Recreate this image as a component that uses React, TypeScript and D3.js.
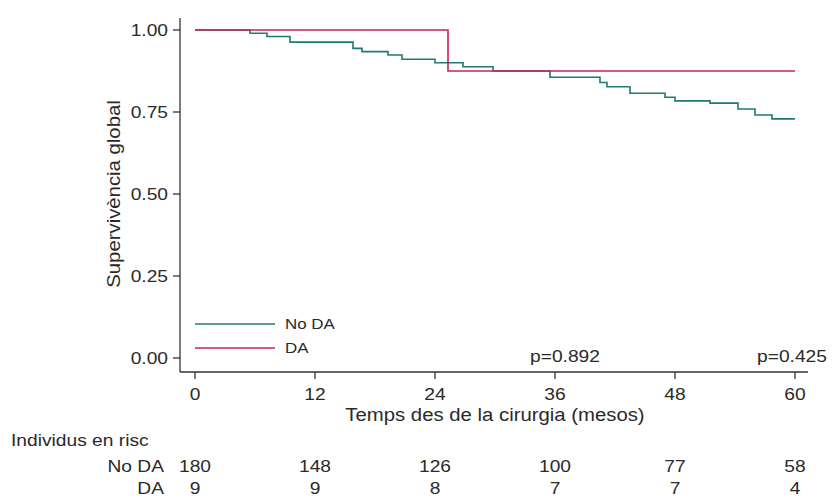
import React from "react";
import * as d3 from "d3";

const noDaSteps: [number, number][] = [
  [0, 1.0], [5.5, 0.99], [7.2, 0.98], [9.5, 0.963], [15.8, 0.944], [16.7, 0.934],
  [19.3, 0.924], [20.7, 0.911], [24, 0.9], [26.8, 0.888], [29.8, 0.875], [35.5, 0.856],
  [40.5, 0.84], [41.2, 0.827], [43.5, 0.807], [47, 0.795], [48, 0.784], [51.5, 0.777],
  [54.3, 0.759], [56, 0.741], [57.7, 0.729], [60, 0.729],
];
const daSteps: [number, number][] = [[0, 1.0], [25.3, 0.875], [60, 0.875]];

const xTicks = [0, 12, 24, 36, 48, 60];
const yTicks = [0, 0.25, 0.5, 0.75, 1.0];
const riskNoDa = [180, 148, 126, 100, 77, 58];
const riskDa = [9, 9, 8, 7, 7, 4];
const pValues = [{ t: 37, label: "p=0.892" }, { t: 59.7, label: "p=0.425" }];

const series = [
  { name: "No DA", color: "#1f7a72", steps: noDaSteps, risk: riskNoDa },
  { name: "DA", color: "#c8205c", steps: daSteps, risk: riskDa },
];

const TXT = "#2a2a2a";
const SX = 1.13; // glyphs in the source are a bit wide

// text with a slight horizontal stretch
function T({ x, y, size, anchor = "start", children, rotate = 0 }: any) {
  return (
    <text
      transform={`translate(${x},${y}) rotate(${rotate}) scale(${SX},1)`}
      textAnchor={anchor}
      fontSize={size}
      fill={TXT}
    >
      {children}
    </text>
  );
}

export default function App() {
  const W = 832, H = 498;
  const x = d3.scaleLinear().domain([0, 60]).range([195, 795]);
  const y = d3.scaleLinear().domain([0, 1]).range([358, 30]);
  const line = d3.line<[number, number]>()
    .x(d => x(d[0]))
    .y(d => y(d[1]))
    .curve(d3.curveStepAfter);
  const font = "'Liberation Sans', Arial, sans-serif";
  const axisY = 372;
  const axisX = 180;

  return (
    <svg width={W} height={H} style={{ position: "absolute", left: 0, top: 0, background: "#fff" }} fontFamily={font}>
      {/* curves */}
      {series.map(s => (
        <path key={s.name} d={line(s.steps) || ""} fill="none" stroke={s.color} strokeWidth={1.6} />
      ))}

      {/* y axis */}
      <line x1={axisX} x2={axisX} y1={18} y2={axisY} stroke="#333" strokeWidth={1.3} />
      {yTicks.map(v => (
        <g key={v}>
          <line x1={axisX - 7} x2={axisX} y1={y(v)} y2={y(v)} stroke="#333" strokeWidth={1.3} />
          <T x={axisX - 12} y={y(v) + 6} size={17} anchor="end">{v.toFixed(2)}</T>
        </g>
      ))}
      <T x={120} y={y(0.5)} size={18} anchor="middle" rotate={-90}>Supervivència global</T>

      {/* x axis */}
      <line x1={axisX} x2={808} y1={axisY} y2={axisY} stroke="#333" strokeWidth={1.3} />
      {xTicks.map(v => (
        <g key={v}>
          <line x1={x(v)} x2={x(v)} y1={axisY} y2={axisY + 7} stroke="#333" strokeWidth={1.3} />
          <T x={x(v)} y={400} size={17} anchor="middle">{v}</T>
        </g>
      ))}
      <T x={x(30)} y={421} size={18} anchor="middle">Temps des de la cirurgia (mesos)</T>

      {/* p-values */}
      {pValues.map(p => (
        <T key={p.label} x={x(p.t)} y={362} size={17} anchor="middle">{p.label}</T>
      ))}

      {/* legend */}
      {series.map((s, i) => (
        <g key={s.name}>
          <line x1={195} x2={275} y1={324 + i * 24} y2={324 + i * 24} stroke={s.color} strokeWidth={1.5} />
          <T x={285} y={329 + i * 24} size={15}>{s.name}</T>
        </g>
      ))}

      {/* risk table */}
      <T x={11} y={446} size={17}>Individus en risc</T>
      {series.map((s, i) => (
        <g key={s.name}>
          <T x={164} y={472 + i * 22} size={17} anchor="end">{s.name}</T>
          {s.risk.map((r, j) => (
            <T key={j} x={x(xTicks[j])} y={472 + i * 22} size={17} anchor="middle">{r}</T>
          ))}
        </g>
      ))}
    </svg>
  );
}
